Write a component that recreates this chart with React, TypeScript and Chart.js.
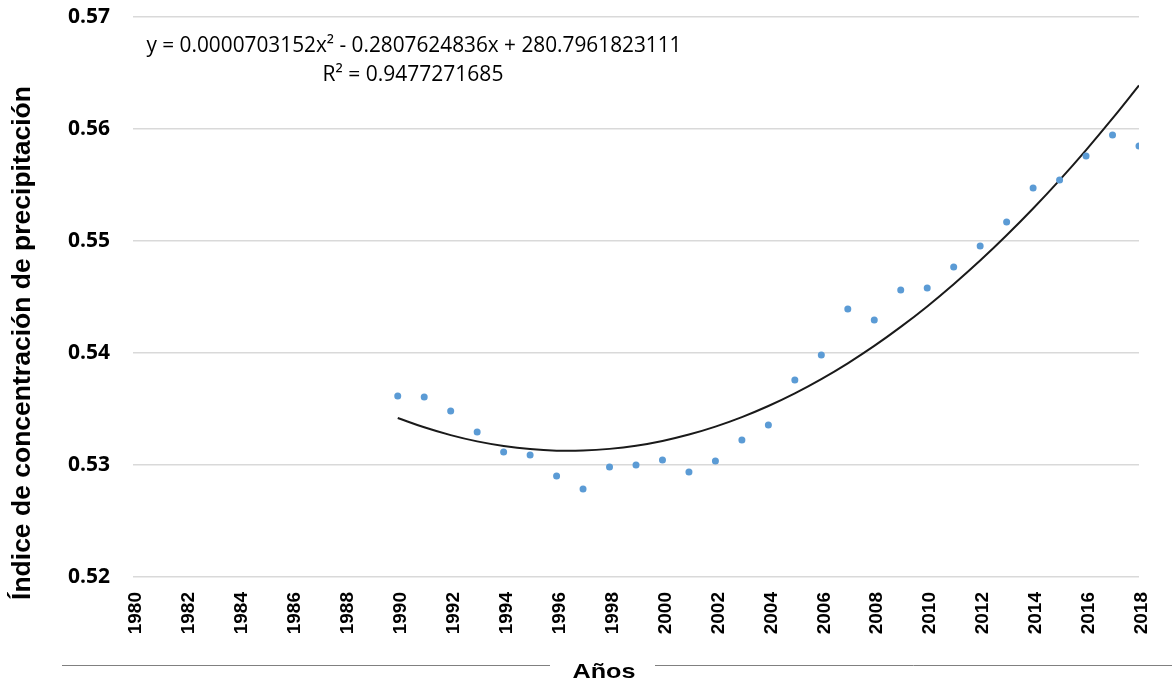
import React, { useEffect, useRef } from "react";
import { Chart, registerables } from "chart.js";

Chart.register(...registerables);

const years = [1990, 1991, 1992, 1993, 1994, 1995, 1996, 1997, 1998, 1999, 2000, 2001, 2002, 2003, 2004, 2005, 2006, 2007, 2008, 2009, 2010, 2011, 2012, 2013, 2014, 2015, 2016, 2017, 2018];
const indexValues = [0.53616, 0.53607, 0.53482, 0.53295, 0.53116, 0.53089, 0.52902, 0.52786, 0.52982, 0.53, 0.53045, 0.52938, 0.53036, 0.53223, 0.53357, 0.53759, 0.53982, 0.54393, 0.54295, 0.54563, 0.5458, 0.54768, 0.54955, 0.5517, 0.55473, 0.55545, 0.55759, 0.55946, 0.55848];
const trendValues = [0.5342, 0.53337, 0.53267, 0.53211, 0.5317, 0.53142, 0.53128, 0.53129, 0.53144, 0.53172, 0.53215, 0.53272, 0.53343, 0.53428, 0.53527, 0.5364, 0.53767, 0.53908, 0.54063, 0.54233, 0.54416, 0.54614, 0.54825, 0.55051, 0.5529, 0.55544, 0.55812, 0.56094, 0.56389];
const equationLines = ["y = 0.0000703152x\u00B2 - 0.2807624836x + 280.7961823111", "R\u00B2 = 0.9477271685"];
const xTitle = "A\u00F1os";
const yTitle = "\u00CDndice de concentraci\u00F3n de precipitaci\u00F3n";

const decorPlugin = {
  id: "decor",
  afterDraw(chart: any) {
    const ctx = chart.ctx;
    ctx.save();
    ctx.fillStyle = "#000";
    ctx.textAlign = "center";
    ctx.textBaseline = "middle";
    // equation
    ctx.font = "21px 'Open Sans', sans-serif";
    ctx.fillText(equationLines[0], 414, 46, 535);
    ctx.fillText(equationLines[1], 413, 75);
    // y title
    ctx.save();
    ctx.translate(23, 343);
    ctx.rotate(-Math.PI / 2);
    ctx.font = "bold 26.5px 'Liberation Sans', Arial, sans-serif";
    ctx.fillText(yTitle, 0, 0);
    ctx.restore();
    // x title with side lines
    ctx.save();
    ctx.translate(604, 672);
    ctx.scale(1.2, 1);
    ctx.font = "bold 21px 'Liberation Sans', Arial, sans-serif";
    ctx.fillText(xTitle, 0, 0);
    ctx.restore();
    ctx.strokeStyle = "#808080";
    ctx.lineWidth = 1;
    ctx.beginPath();
    ctx.moveTo(62, 665.5);
    ctx.lineTo(550, 665.5);
    ctx.moveTo(655, 665.5);
    ctx.lineTo(1172, 665.5);
    ctx.stroke();
    ctx.restore();
  },
};

export default function App() {
  const ref = useRef<HTMLCanvasElement>(null);
  useEffect(() => {
    if (!ref.current) return;
    const chart = new Chart(ref.current, {
      type: "scatter",
      data: {
        datasets: [
          {
            label: "Trend",
            data: years.map((y, i) => ({ x: y, y: trendValues[i] })),
            showLine: true,
            borderColor: "#1a1a1a",
            borderWidth: 2,
            pointRadius: 0,
            tension: 0.4,
            order: 2,
          },
          {
            label: "ICP",
            data: years.map((y, i) => ({ x: y, y: indexValues[i] })),
            backgroundColor: "#5b9bd5",
            borderColor: "#5b9bd5",
            pointRadius: 3.5,
            borderWidth: 0,
            order: 1,
          },
        ],
      },
      options: {
        responsive: false,
        animation: false,
        layout: { padding: { left: 0, right: 33, top: 17, bottom: 0 } },
        plugins: { legend: { display: false }, tooltip: { enabled: false } },
        scales: {
          x: {
            type: "linear",
            min: 1980,
            max: 2018,
            grid: { display: false, drawTicks: false },
            border: { display: false },
            ticks: {
              stepSize: 2,
              minRotation: 90,
              maxRotation: 90,
              padding: 15,
              labelOffset: 3,
              color: "#000",
              font: { family: "'Liberation Sans', Arial, sans-serif", size: 19, weight: "bold" },
              callback: (v: any) => String(v),
            },
            afterFit: (scale: any) => {
              scale.height = 107;
              scale.paddingLeft = 0;
              scale.paddingRight = 0;
              scale.paddingTop = 0;
              scale.paddingBottom = 0;
            },
          },
          y: {
            min: 0.52,
            max: 0.57,
            grid: { color: "#d9d9d9", lineWidth: 1.5, drawTicks: false },
            border: { display: false },
            ticks: {
              stepSize: 0.01,
              padding: 23,
              color: "#000",
              font: { family: "'Open Sans', sans-serif", size: 21, weight: "bold" },
              callback: (v: any) => Number(v).toFixed(2),
            },
            afterFit: (scale: any) => {
              scale.width = 133;
              scale.paddingLeft = 0;
              scale.paddingRight = 0;
              scale.paddingTop = 0;
              scale.paddingBottom = 0;
            },
          },
        },
      },
      plugins: [decorPlugin],
    });
    return () => chart.destroy();
  }, []);
  return (
    <div style={{ position: "absolute", left: 0, top: 0, width: 1172, height: 684, background: "#fff" }}>
      <canvas ref={ref} width={1172} height={684} />
    </div>
  );
}
